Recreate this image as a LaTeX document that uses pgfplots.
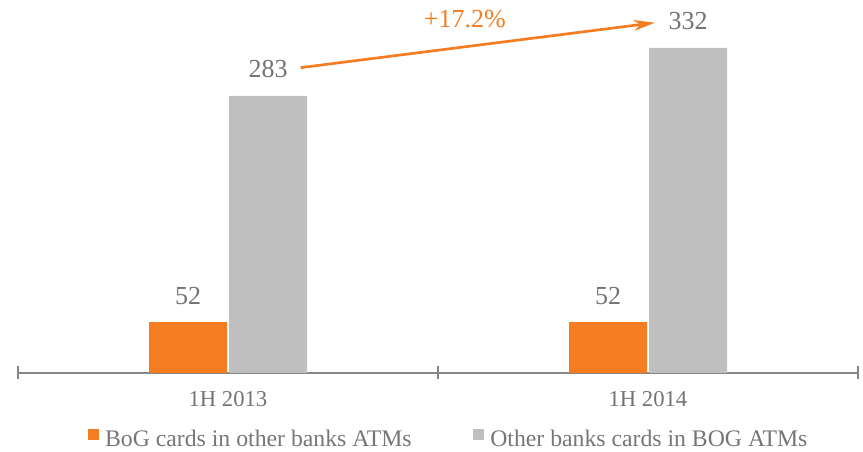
\documentclass[border=0pt]{standalone}
\usepackage{pgfplots}
\pgfplotsset{compat=1.18}
\usetikzlibrary{arrows.meta}
\usepackage{fontspec}
\setmainfont{Liberation Serif}
\definecolor{borange}{RGB}{245,124,32}
\definecolor{bgray}{RGB}{191,191,191}
\definecolor{axgray}{RGB}{134,134,134}
\definecolor{txtgray}{RGB}{115,115,115}
\definecolor{leggray}{RGB}{118,118,118}
\begin{document}
\begin{tikzpicture}
\useasboundingbox (0,0) rectangle (647.25pt,339pt);
\begin{axis}[
  at={(13.5pt,59.25pt)}, anchor=south west,
  scale only axis, width=630pt, height=279.75pt,
  xmin=-0.5, xmax=1.5, ymin=0, ymax=381,
  clip=false,
  /pgf/number format/assume math mode=true,
  axis y line=none,
  axis x line*=bottom,
  x axis line style={draw=axgray, line width=1.5pt},
  ybar=1.5pt, bar width=58.5pt,
  xtick={0,1}, xticklabels={1H 2013, 1H 2014},
  major tick length=0pt,
  xticklabel style={font=\fontsize{17pt}{20pt}\selectfont, text=txtgray, anchor=base, yshift=-25.5pt},
  extra x ticks={-0.5,0.5,1.5}, extra x tick labels={},
  extra x tick style={major tick length=9.75pt, tick align=center, tick style={draw=axgray, line width=1pt}},
  nodes near coords,
  every node near coord/.append style={font=\fontsize{19.5pt}{22pt}\selectfont, text=txtgray, anchor=base, yshift=13.5pt},
  legend columns=2,
  legend style={draw=none, fill=none, at={(0.078,-0.177)}, anchor=west,
    font=\fontsize{17.8pt}{20pt}\selectfont, text=leggray,
    /tikz/every odd column/.style={column sep=4.5pt},
    /tikz/every even column/.style={column sep=46pt},
    nodes={inner sep=0pt}},
]
\addplot[fill=borange, draw=none, legend image code/.code={\fill[borange] (0pt,-0.5pt) rectangle (8.5pt,8pt);}] coordinates {(0,52) (1,52)};
\addlegendentry{BoG cards in other banks ATMs}
\addplot[fill=bgray, draw=none, legend image code/.code={\fill[bgray] (0pt,-0.5pt) rectangle (8.5pt,8pt);}] coordinates {(0,283) (1,332)};
\addlegendentry{Other banks cards in BOG ATMs}
\draw[borange, line width=2pt, -{Stealth[length=16pt,width=8pt,inset=5pt]}] (axis cs:0.173,311.9) -- (axis cs:1.0167,357.8);
\node[anchor=base, text=borange, font=\fontsize{19.5pt}{22pt}\selectfont, inner sep=0pt] at (axis cs:0.564,353.4) {+17.2\%};
\end{axis}
\end{tikzpicture}
\end{document}
